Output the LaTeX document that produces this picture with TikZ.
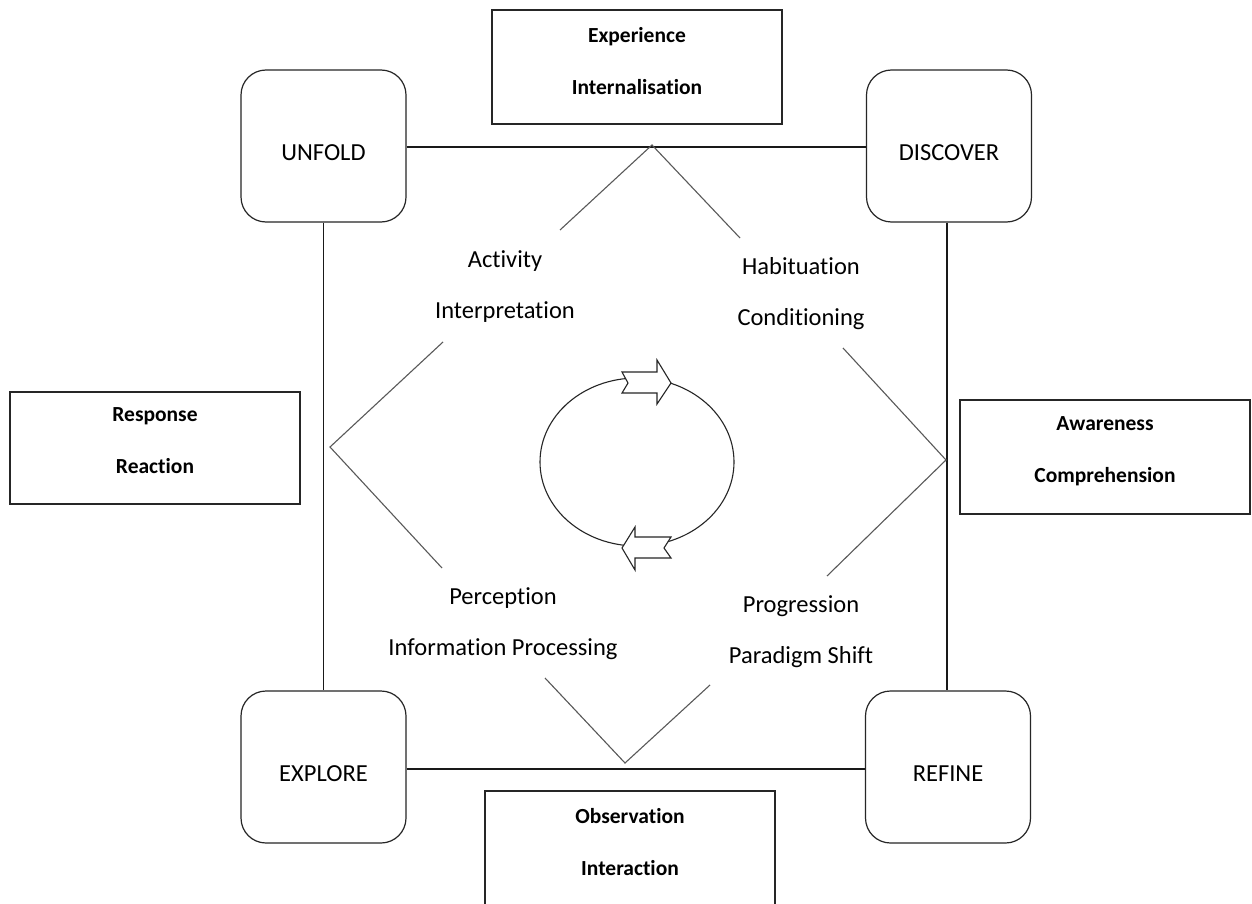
\documentclass[tikz,border=0pt]{standalone}
\usepackage{fontspec}
\setmainfont{Carlito}[Ligatures={NoCommon}]
\usetikzlibrary{shapes.geometric,calc}
\tikzset{
  stage/.style={draw=black!85, line width=1.2pt, rounded corners=25pt, minimum width=165pt, minimum height=152pt, inner sep=0pt, fill=white},
  stagetext/.style={font=\fontsize{24.5}{28}\selectfont, inner sep=0pt},
  infobox/.style={draw=black!85, line width=1.2pt, minimum width=290pt, minimum height=114pt, inner sep=0pt},
  infotext/.style={align=center, font=\bfseries\fontsize{21.5}{52}\selectfont, inner sep=0pt},
  lbl/.style={align=center, font=\fontsize{24.5}{51}\selectfont, inner sep=0pt},
  frame/.style={draw=black!90, line width=1.2pt},
  vline/.style={draw=black!65, line width=1.1pt},
  blockarrow/.style={draw=black!85, line width=1.1pt, fill=white, line join=miter}
}
\begin{document}
\begin{tikzpicture}[x=1pt,y=-1pt]
\path[use as bounding box, clip] (0,0) rectangle (1252,904);
\fill[white] (0,0) rectangle (1252,904);

% stage boxes
\node[stage] (unfold) at (323.5,146) {};
\node[stage] (discover) at (949,146) {};
\node[stage] (explore) at (323.5,767) {};
\node[stage] (refine) at (948,767) {};
\node[stagetext] (unfoldtext) at ($(unfold.center)+(0,7)$) {UNFOLD};
\node[stagetext] (discovertext) at ($(discover.center)+(0,7)$) {DISCOVER};
\node[stagetext] (exploretext) at ($(explore.center)+(0,7)$) {EXPLORE};
\node[stagetext] (refinetext) at ($(refine.center)+(0,7)$) {REFINE};

% frame
\draw[frame] (unfold.east |- 0,147) -- (discover.west |- 0,147);
\draw[frame] (explore.east |- 0,769) -- (refine.west |- 0,769);
\draw[frame] (unfold.south) -- (explore.north);
\draw[frame] (discover.south -| 947,0) -- (refine.north -| 947,0);

% info boxes
\node[infobox] (expbox) at (637,67) {};
\node[infotext] (exptext) at (637,61) {Experience\\Internalisation};
\node[infobox, minimum height=112pt] (resbox) at (155,448) {};
\node[infotext] (restext) at (155,441) {Response\\Reaction};
\node[infobox] (awbox) at (1105,457) {};
\node[infotext] (awtext) at (1105,451) {Awareness\\Comprehension};
\node[infobox, minimum height=134pt] (obsbox) at (630,858) {};
\node[infotext] (obstext) at (630,842) {Observation\\Interaction};

% V lines
\coordinate (t1) at (560,230); \coordinate (t2) at (652,145); \coordinate (t3) at (740,238);
\coordinate (l1) at (443,342); \coordinate (l2) at (330,447); \coordinate (l3) at (442,568);
\coordinate (r1) at (843,348); \coordinate (r2) at (946,460); \coordinate (r3) at (827,576);
\coordinate (b1) at (545,678); \coordinate (b2) at (625,763); \coordinate (b3) at (710,685);
\draw[vline] (t1) -- (t2) -- (t3);
\draw[vline] (l1) -- (l2) -- (l3);
\draw[vline] (r1) -- (r2) -- (r3);
\draw[vline] (b1) -- (b2) -- (b3);

% labels
\node[lbl] (act) at (505,287) {Activity\\Interpretation};
\node[lbl] (hab) at (801,294) {Habituation\\Conditioning};
\node[lbl] (per) at (503,624) {Perception\\Information Processing};
\node[lbl] (pro) at (801,632) {Progression\\Paradigm Shift};

% cycle
\node[draw=black!85, line width=1.1pt, ellipse, minimum width=194pt, minimum height=168pt, inner sep=0pt] (cyc) at (637,462) {};
\draw[blockarrow] (622,372) -- (657,372) -- (657,360) -- (671,383) -- (657,404) -- (657,393) -- (622,393) -- (628,383) -- cycle;
\draw[blockarrow] (622,548) -- (635,527) -- (635,537) -- (671,537) -- (664,548) -- (671,558) -- (635,558) -- (635,570) -- cycle;
\end{tikzpicture}
\end{document}
